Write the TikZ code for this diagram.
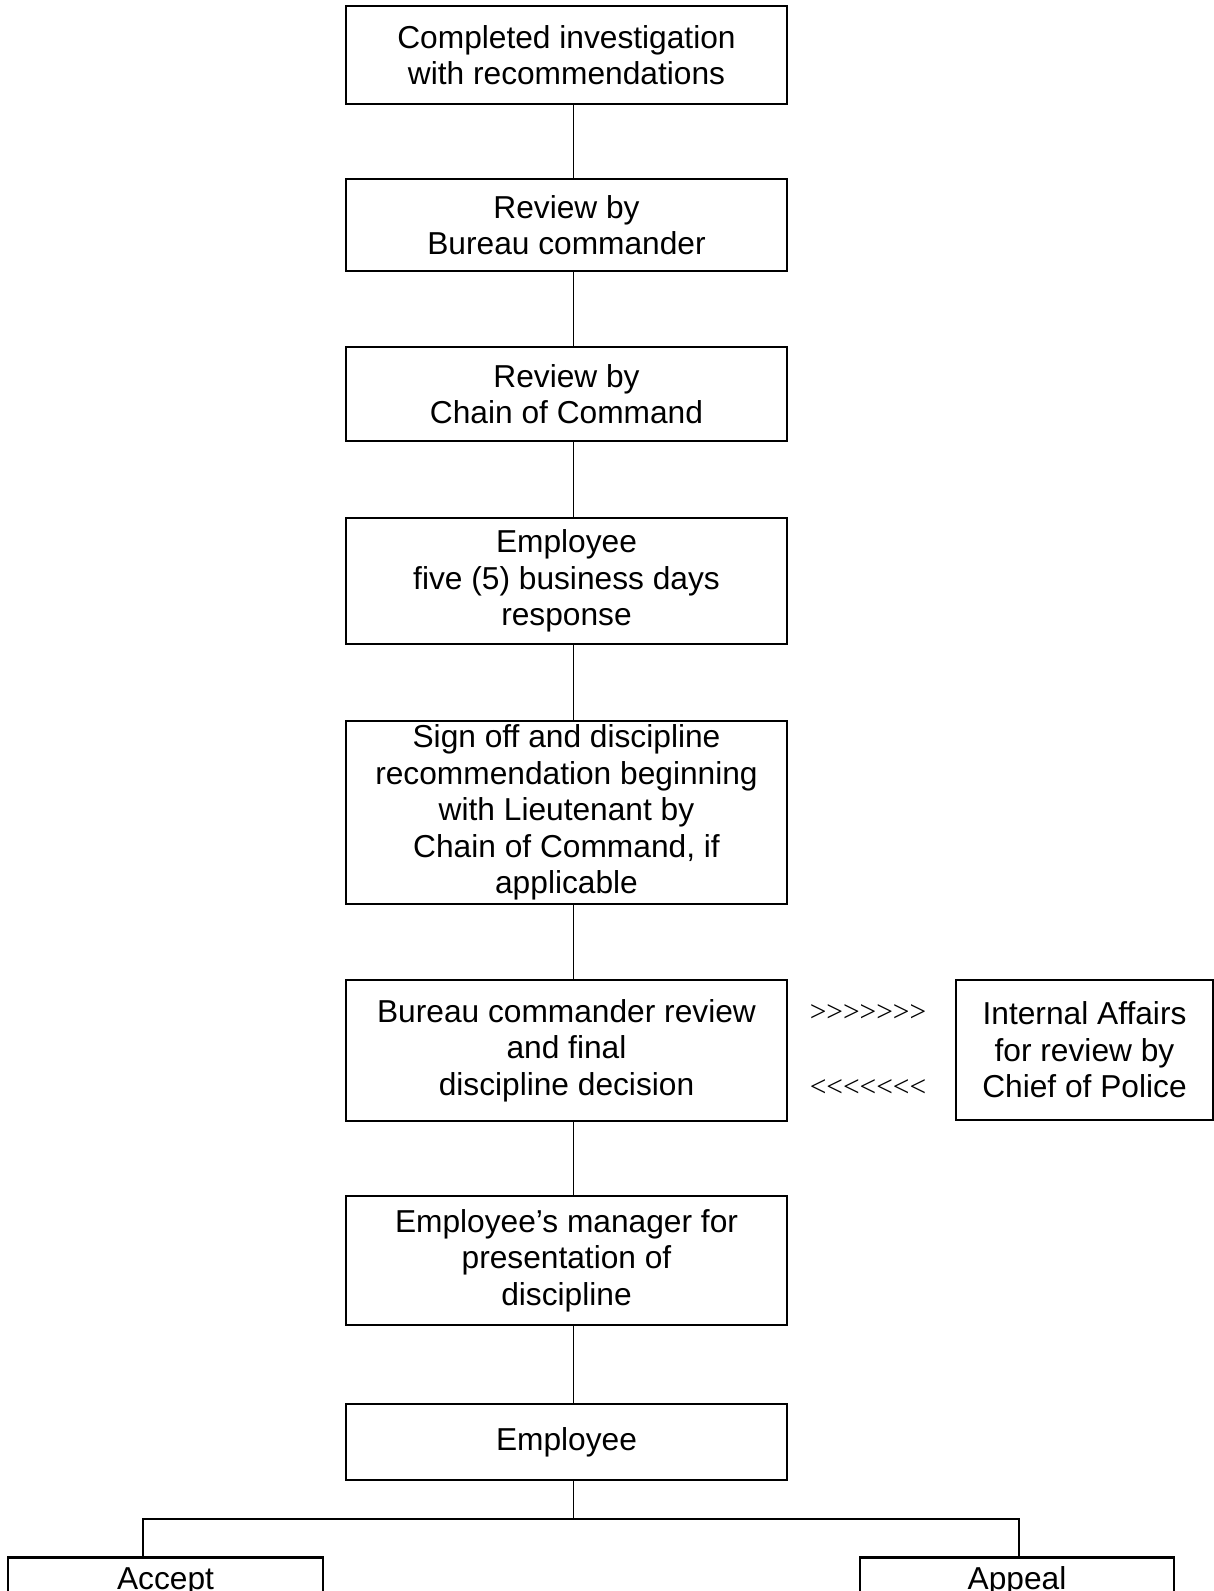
\documentclass[tikz,border=0pt]{standalone}
\usepackage{fontspec}
\setmainfont{Liberation Sans}
\newfontfamily\chevfont{Liberation Serif}

\begin{document}
\begin{tikzpicture}[x=1pt,y=-1pt,
  every node/.style={text centered,align=center,font=\fontsize{31.7}{36.6}\selectfont},
  stage/.style={draw,line width=2.5pt,inner sep=0pt,minimum width=441},
  leaf/.style={draw,line width=2.5pt,inner xsep=0pt,inner ysep=9pt,text height=23pt,text depth=40pt},
  link/.style={line width=1.6pt},
  chev/.style={font=\chevfont\fontsize{29.5}{32}\selectfont}]

\useasboundingbox (0,0) rectangle (1214,1591);
\clip (0,0) rectangle (1214,1591);

\node [stage,minimum height=98] (b1) at (566.5,55) {Completed investigation\\with recommendations};
\node [stage,minimum height=92] (b2) at (566.5,225) {Review by\\Bureau commander};
\node [stage,minimum height=94] (b3) at (566.5,394) {Review by\\Chain of Command};
\node [stage,minimum height=126] (b4) at (566.5,581) {Employee\\five (5) business days\\response};
\node [stage,minimum height=183] (b5) at (566.5,812.5) {Sign off and discipline\\recommendation beginning\\with Lieutenant by\\Chain of Command, if\\applicable};
\node [stage,minimum height=141] (b6) at (566.5,1050.5) {Bureau commander review\\and final\\discipline decision};
\node [stage,minimum height=129] (b7) at (566.5,1260.5) {Employee's manager for\\presentation of\\discipline};
\node [stage,minimum height=76] (b8) at (566.5,1442) {Employee};

\node [stage,minimum width=257,minimum height=140] (ia) at (1084.5,1050) {Internal Affairs\\for review by\\Chief of Police};
\node [chev] (gt) at (868,1013) {>>>>>>>};
\node [chev] (lt) at (868,1088) {<<<<<<<};

\foreach \a/\b in {b1/b2,b2/b3,b3/b4,b4/b5,b5/b6,b6/b7,b7/b8}
  \draw [link] ([xshift=7]\a.south) -- ([xshift=7]\b.north);

%%%bottom
\node [leaf,minimum width=315,anchor=north] (acc) at (165.5,1556) {Accept};
\node [leaf,minimum width=314,anchor=north] (app) at (1017,1556) {Appeal};

\draw [link] ([xshift=7]b8.south) -- ++(0,38) coordinate (fork);
\draw [link] ([xshift=-22.5]acc.north) |- (fork) -| ([xshift=2]app.north);

\end{tikzpicture}
\end{document}
